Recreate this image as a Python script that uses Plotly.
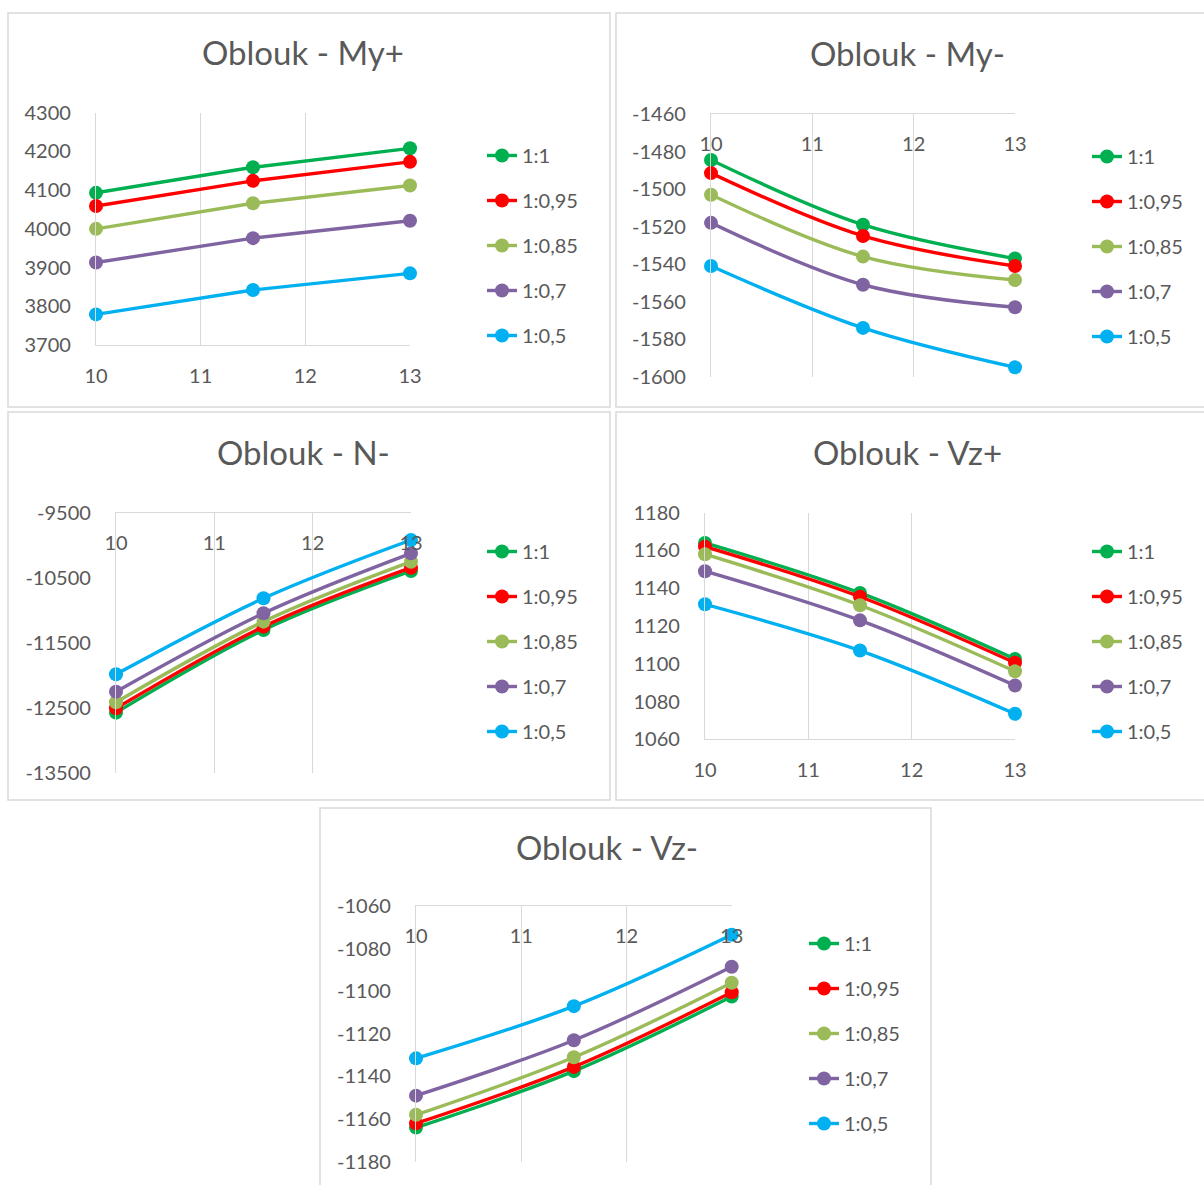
import plotly.graph_objects as go

# Span (x) at which the internal forces were evaluated
spans = [10, 11.5, 13]
x_ticks = [10, 11, 12, 13]
x_tick_labels = ["10", "11", "12", "13"]

# Ratio series
series_names = ["1:1", "1:0,95", "1:0,85", "1:0,7", "1:0,5"]
series_colors = ["#00B050", "#FF0000", "#9BBB59", "#8064A2", "#00B0F0"]

# Oblouk - My+
my_plus = [
    [4093, 4159, 4208],
    [4059, 4124, 4173],
    [4000, 4066, 4112],
    [3913, 3976, 4021],
    [3779, 3842, 3885],
]
my_plus_ticks = [3700, 3800, 3900, 4000, 4100, 4200, 4300]
my_plus_labels = ["3700", "3800", "3900", "4000", "4100", "4200", "4300"]

# Oblouk - My-
my_minus = [
    [-1484.5, -1519, -1537],
    [-1491.5, -1525, -1541],
    [-1503, -1536, -1548.5],
    [-1518, -1551, -1563],
    [-1541, -1574, -1595],
]
my_minus_ticks = [-1600, -1580, -1560, -1540, -1520, -1500, -1480, -1460]
my_minus_labels = ["-1600", "-1580", "-1560", "-1540", "-1520", "-1500", "-1480", "-1460"]

# Oblouk - N-
n_minus = [
    [-12576, -11304, -10397],
    [-12509, -11253, -10346],
    [-12416, -11176, -10254],
    [-12253, -11047, -10125],
    [-11986, -10817, -9920],
]
n_minus_ticks = [-13500, -12500, -11500, -10500, -9500]
n_minus_labels = ["-13500", "-12500", "-11500", "-10500", "-9500"]

# Oblouk - Vz+
vz_plus = [
    [1164, 1137.5, 1102.5],
    [1162, 1135.5, 1100.5],
    [1158, 1131, 1096],
    [1149, 1123, 1088.5],
    [1131.5, 1107, 1073.5],
]
vz_plus_ticks = [1060, 1080, 1100, 1120, 1140, 1160, 1180]
vz_plus_labels = ["1060", "1080", "1100", "1120", "1140", "1160", "1180"]

# Oblouk - Vz-
vz_minus = [
    [-1164, -1137.5, -1102.5],
    [-1162, -1135.5, -1100.5],
    [-1158, -1131, -1096],
    [-1149, -1123, -1088.5],
    [-1131.5, -1107, -1073.5],
]
vz_minus_ticks = [-1180, -1160, -1140, -1120, -1100, -1080, -1060]
vz_minus_labels = ["-1180", "-1160", "-1140", "-1120", "-1100", "-1080", "-1060"]

titles = ["Oblouk - My+", "Oblouk - My-", "Oblouk - N-", "Oblouk - Vz+", "Oblouk - Vz-"]
datasets = [my_plus, my_minus, n_minus, vz_plus, vz_minus]
y_tickvals = [my_plus_ticks, my_minus_ticks, n_minus_ticks, vz_plus_ticks, vz_minus_ticks]
y_ticktext = [my_plus_labels, my_minus_labels, n_minus_labels, vz_plus_labels, vz_minus_labels]
x_on_top = [False, True, True, False, True]
line_shapes = ["linear", "spline", "spline", "spline", "spline"]

W, H = 1204, 1185
# pixel layout of each chart: plot area (left, right, top, bottom), frame, title, legend
plot_px = [
    (96, 410, 112.7, 345),
    (711, 1015, 114, 376.7),
    (116, 411, 512.7, 772.7),
    (705, 1015, 512.7, 739.3),
    (416, 731.7, 906, 1161.7),
]
frame_px = [
    (8, 13, 610, 407),
    (616, 13, 1210, 407),
    (8, 412, 610, 800),
    (616, 412, 1210, 800),
    (320, 808, 931, 1195),
]
title_px = [(303, 52), (907, 53), (303, 452), (907, 452), (607, 847)]
legend_px = [(482, 136), (1087, 137), (482, 532), (1087, 532), (804, 924)]

FONT = "Lato, 'Open Sans', sans-serif"
TEXT = "#595959"
GRID = "#D9D9D9"


def px(x):
    return x / W


def py(y):
    return 1 - y / H


fig = go.Figure()
layout = dict(
    width=W,
    height=H,
    margin=dict(l=0, r=0, t=0, b=0, autoexpand=False),
    paper_bgcolor="white",
    plot_bgcolor="white",
    font=dict(family=FONT, color=TEXT, size=20),
    shapes=[],
    annotations=[],
)

for i in range(5):
    n = "" if i == 0 else str(i + 1)
    xa, ya = "x" + n, "y" + n
    leg = "legend" if i == 0 else "legend" + str(i + 1)
    for j, name in enumerate(series_names):
        fig.add_trace(
            go.Scatter(
                x=spans,
                y=datasets[i][j],
                name=name,
                mode="lines+markers",
                line=dict(color=series_colors[j], width=3.4, shape=line_shapes[i]),
                marker=dict(color=series_colors[j], size=14),
                xaxis=xa,
                yaxis=ya,
                legend=leg,
                legendgroup=f"c{i}s{j}",
                cliponaxis=False,
            )
        )

    l, r, t, b = plot_px[i]
    top = x_on_top[i]
    layout["xaxis" + n] = dict(
        domain=[px(l), px(r)],
        anchor=ya,
        range=[10, 13],
        tickmode="array",
        tickvals=x_ticks,
        ticktext=x_tick_labels,
        side="top" if top else "bottom",
        showgrid=True,
        gridcolor=GRID,
        gridwidth=1.3,
        showline=True,
        linecolor=GRID,
        linewidth=1.3,
        zeroline=False,
        ticks="",
        ticklabelposition="inside" if top else "outside",
        ticklabeloverflow="allow",
        ticklabelstandoff=24 if top else 13,
        tickfont=dict(size=20, color=TEXT),
        automargin=False,
        fixedrange=True,
    )
    layout["yaxis" + n] = dict(
        domain=[py(b), py(t)],
        anchor=xa,
        range=[y_tickvals[i][0], y_tickvals[i][-1]],
        tickmode="array",
        tickvals=y_tickvals[i],
        ticktext=y_ticktext[i],
        showgrid=False,
        showline=True,
        linecolor=GRID,
        linewidth=1.3,
        zeroline=False,
        ticks="",
        ticklabelstandoff=20,
        tickfont=dict(size=20, color=TEXT),
        automargin=False,
        fixedrange=True,
    )

    fx0, fy0, fx1, fy1 = frame_px[i]
    layout["shapes"].append(
        dict(
            type="rect",
            xref="paper",
            yref="paper",
            x0=px(fx0),
            x1=px(fx1),
            y0=py(fy1),
            y1=py(fy0),
            line=dict(color=GRID, width=1.5),
            fillcolor="rgba(0,0,0,0)",
            layer="below",
        )
    )

    tx, ty = title_px[i]
    layout["annotations"].append(
        dict(
            text=titles[i],
            xref="paper",
            yref="paper",
            x=px(tx),
            y=py(ty),
            xanchor="center",
            yanchor="middle",
            showarrow=False,
            font=dict(size=33, color=TEXT, family=FONT),
        )
    )

    lx, ly = legend_px[i]
    layout[leg] = dict(
        x=px(lx),
        y=py(ly),
        xanchor="left",
        yanchor="top",
        bgcolor="rgba(0,0,0,0)",
        font=dict(size=20, color=TEXT, family=FONT),
        tracegroupgap=16,
        itemclick=False,
        itemdoubleclick=False,
    )

fig.update_layout(**layout)
fig.write_html("out.html")
